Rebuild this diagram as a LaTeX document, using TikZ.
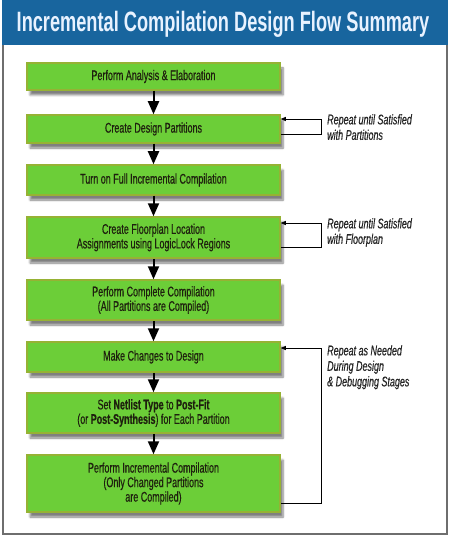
\documentclass[tikz,border=0pt]{standalone}
\usepackage{fontspec}
\setmainfont{Liberation Sans}[FakeStretch=0.64, FakeBold=0.5]
\newfontfamily\titlefont{Liberation Sans}[FakeStretch=0.65]
\usepackage{xcolor}
\usepackage{tikz}
\usetikzlibrary{positioning, arrows.meta, shadows.blur}

\definecolor{headblue}{RGB}{24,101,158}
\definecolor{headtext}{RGB}{232,242,255}
\definecolor{boxgreen}{RGB}{108,206,56}
\definecolor{boxedge}{RGB}{150,178,52}
\definecolor{boxtext}{RGB}{30,32,14}
\definecolor{framegray}{RGB}{110,110,110}

\begin{document}
\begin{tikzpicture}[x=1pt, y=-1pt,
  stepbox/.style={rectangle, draw=boxedge, line width=1.5pt, fill=boxgreen,
    minimum width=253pt, inner sep=2pt, align=center, text=boxtext,
    font=\fontsize{14}{14.5}\selectfont,
    blur shadow={shadow xshift=3pt, shadow yshift=-5pt, shadow blur steps=6, shadow opacity=50}},
  flow/.style={line width=2pt, -{Triangle[length=13pt, width=11pt]}},
  fb/.style={line width=0.8pt, -{Triangle[length=5pt, width=4pt]}},
  note/.style={anchor=north west, align=left, inner sep=0pt, text=black!85,
    font=\fontsize{14}{15.5}\selectfont\itshape}
]
  \useasboundingbox (0,0) rectangle (450,537);
  % frame and header
  \draw[framegray, line width=2pt] (3,1) rectangle (447,534);
  \fill[headblue] (2,0) rectangle (448,45);
  \node[text=headtext, font=\titlefont\bfseries\fontsize{28}{30}\selectfont] (title) at (223,24)
    {Incremental Compilation Design Flow Summary};

  % flow steps
  \node[stepbox, minimum height=27pt] (s1) at (153.5,76.5) {Perform Analysis \& Elaboration};
  \node[stepbox, minimum height=28pt] (s2) at (153.5,129) {Create Design Partitions};
  \node[stepbox, minimum height=30pt] (s3) at (153.5,180) {Turn on Full Incremental Compilation};
  \node[stepbox, minimum height=41pt] (s4) at (153.5,237.5) {Create Floorplan Location\\Assignments using LogicLock Regions};
  \node[stepbox, minimum height=40pt] (s5) at (153.5,300) {Perform Complete Compilation\\(All Partitions are Compiled)};
  \node[stepbox, minimum height=30pt] (s6) at (153.5,357) {Make Changes to Design};
  \node[stepbox, minimum height=40pt] (s7) at (153.5,413) {Set \textbf{Netlist Type} to \textbf{Post-Fit}\\(or \textbf{Post-Synthesis}) for Each Partition};
  \node[stepbox, minimum height=57pt] (s8) at (153.5,483.5) {Perform Incremental Compilation\\(Only Changed Partitions\\are Compiled)};

  \draw[flow] (s1) -- (s2);
  \draw[flow] (s2) -- (s3);
  \draw[flow] (s3) -- (s4);
  \draw[flow] (s4) -- (s5);
  \draw[flow] (s5) -- (s6);
  \draw[flow] (s6) -- (s7);
  \draw[flow] (s7) -- (s8);

  % feedback loops
  \draw[fb] ([yshift=-5pt]s2.east) -- ++(41,0) |- ([yshift=10pt]s2.east);
  \draw[fb] ([yshift=-9.5pt]s4.east) -- ++(41,0) |- ([yshift=14.5pt]s4.east);
  \draw[fb] ([yshift=-19.5pt]s8.east) -- ++(41,0) |- ([yshift=9pt]s6.east);

  \node[note] (n1) at (327,114) {Repeat until Satisfied\\with Partitions};
  \node[note] (n2) at (327,218) {Repeat until Satisfied\\with Floorplan};
  \node[note] (n3) at (327,345) {Repeat as Needed\\During Design\\\& Debugging Stages};
\end{tikzpicture}
\end{document}
